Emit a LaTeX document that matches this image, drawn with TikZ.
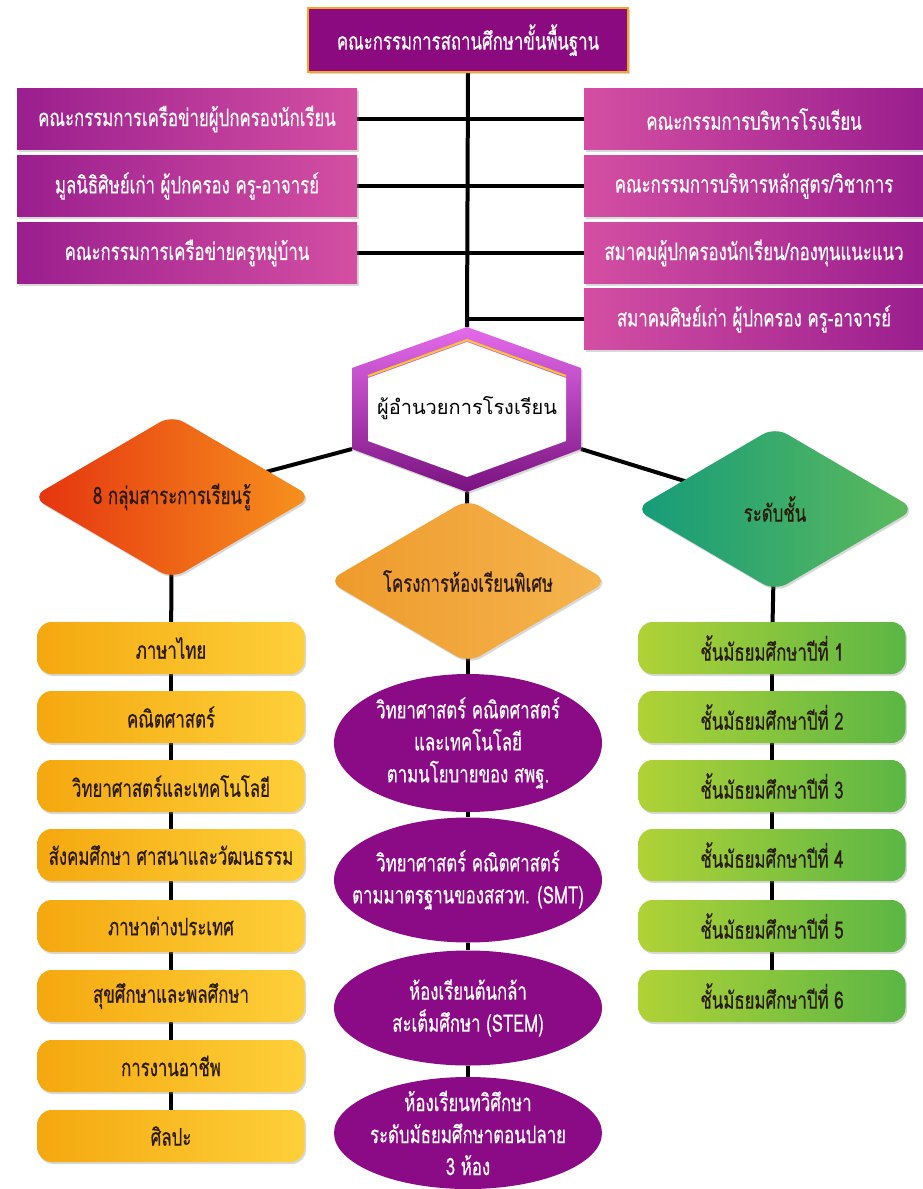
\documentclass[tikz,border=0pt]{standalone}
\usepackage{fontspec}
\newfontfamily\thai[Script=Thai, FakeStretch=0.7, FakeBold=0.4]{Loma}
\newfontfamily\thaiwide[Script=Thai]{Loma}
\usetikzlibrary{shapes.geometric,shadows}
\pgfdeclarelayer{back}
\pgfdeclarelayer{bg}
\pgfsetlayers{back,bg,main}
\definecolor{topP}{HTML}{8C0A80}
\definecolor{topB}{HTML}{F5A623}
\definecolor{pdark}{HTML}{9A1E8E}
\definecolor{plight}{HTML}{D44FA3}
\definecolor{oL}{HTML}{F5A80F}
\definecolor{oR}{HTML}{FDD03A}
\definecolor{gL}{HTML}{B0D236}
\definecolor{gR}{HTML}{5BB645}
\definecolor{d1L}{HTML}{E5330F}
\definecolor{d1R}{HTML}{F7931E}
\definecolor{d2L}{HTML}{EE9A2A}
\definecolor{d2R}{HTML}{F5B550}
\definecolor{d3L}{HTML}{159B7A}
\definecolor{d3R}{HTML}{5DBA5C}
\definecolor{ellp}{HTML}{8B0B86}
\definecolor{hexT}{HTML}{E46BEB}
\definecolor{hexB}{HTML}{7A1280}
\definecolor{hexY}{HTML}{F8C630}
\definecolor{dtxt}{HTML}{2A1A0A}
\begin{document}
\begin{tikzpicture}[x=1pt,y=-1pt,
 conn/.style={line width=4pt, black},
 txt/.style={font=\thai\fontsize{24}{28}\selectfont, align=center, inner sep=0pt, text=dtxt},
 shad/.style={drop shadow={opacity=0.3,shadow xshift=1.5pt,shadow yshift=-2pt}},
 pbox/.style={txt, shad, text=white, minimum width=340pt, minimum height=61pt},
 lbox/.style={pbox, left color=pdark, right color=plight},
 rbox/.style={pbox, left color=plight, right color=pdark},
 cbox/.style={txt, shad, rounded corners=14pt, minimum width=267pt, minimum height=52pt},
 obox/.style={cbox, left color=oL, right color=oR},
 gbox/.style={cbox, left color=gL, right color=gR},
 diam/.style={shad, diamond, inner sep=0pt, rounded corners=14pt, minimum width=280pt, minimum height=164pt},
 ell/.style={ellipse, fill=ellp, inner sep=0pt, minimum width=268pt},
 etxt/.style={txt, text=white, font=\thai\fontsize{24}{32}\selectfont},
]
\useasboundingbox (0,0) rectangle (922,1189);
\begin{pgfonlayer}{back}
\fill[white] (0,0) rectangle (922,1189);
\end{pgfonlayer}

% top box
\node[txt, shad, fill=topP, draw=topB, line width=2pt, text=white,
  minimum width=320pt, minimum height=64pt] (top) at (468,40) {คณะกรรมการสถานศึกษาขั้นพื้นฐาน};

% left boxes
\node[lbox] (L1) at (187,119) {คณะกรรมการเครือข่ายผู้ปกครองนักเรียน};
\node[lbox] (L2) at (187,186) {มูลนิธิศิษย์เก่า ผู้ปกครอง ครู-อาจารย์};
\node[lbox] (L3) at (187,253) {คณะกรรมการเครือข่ายครูหมู่บ้าน};
% right boxes
\node[rbox] (R1) at (754,119) {คณะกรรมการบริหารโรงเรียน};
\node[rbox] (R2) at (754,186) {คณะกรรมการบริหารหลักสูตร/วิชาการ};
\node[rbox] (R3) at (754,253) {สมาคมผู้ปกครองนักเรียน/กองทุนแนะแนว};
\node[rbox] (R4) at (754,319) {สมาคมศิษย์เก่า ผู้ปกครอง ครู-อาจารย์};

% hexagon
\coordinate (hT) at (467,327);
\coordinate (hUR) at (581,368);
\coordinate (hLR) at (581,449);
\coordinate (hB) at (467,492);
\coordinate (hLL) at (352,449);
\coordinate (hUL) at (352,368);
\shade[top color=hexT, bottom color=hexB, shad] (hT) -- (hUR) -- (hLR) -- (hB) -- (hLL) -- (hUL) -- cycle;
\fill[white] (467,342) -- (566,378) -- (566,441) -- (467,477) -- (368,441) -- (368,378) -- cycle;
\draw[hexY, line width=2pt, line join=round] (368,376) -- (467,340) -- (566,376);
\node[txt, text=black, font=\thaiwide\fontsize{20}{24}\selectfont] (dir) at (467,408) {ผู้อำนวยการโรงเรียน};

% diamonds
\node[diam, left color=d1L, right color=d1R] (d1) at (172,497) {};
\node[txt] (d1t) at (d1.center) {8 กลุ่มสาระการเรียนรู้};
\node[diam, left color=d2L, right color=d2R] (d2) at (468,581) {};
\node[txt] (d2t) at (d2.center) {โครงการห้องเรียนพิเศษ};
\node[diam, left color=d3L, right color=d3R] (d3) at (775,509) {};
\node[txt] (d3t) at (d3.center) {ระดับชั้น};

% left column
\node[obox] (o1) at (171,648) {ภาษาไทย};
\node[obox] (o2) at (171,717) {คณิตศาสตร์};
\node[obox] (o3) at (171,786) {วิทยาศาสตร์และเทคโนโลยี};
\node[obox] (o4) at (171,855) {สังคมศึกษา ศาสนาและวัฒนธรรม};
\node[obox] (o5) at (171,926) {ภาษาต่างประเทศ};
\node[obox] (o6) at (171,996) {สุขศึกษาและพลศึกษา};
\node[obox] (o7) at (171,1066) {การงานอาชีพ};
\node[obox] (o8) at (171,1136) {ศิลปะ};

% right column
\node[gbox] (g1) at (772,648) {ชั้นมัธยมศึกษาปีที่ 1};
\node[gbox] (g2) at (772,717) {ชั้นมัธยมศึกษาปีที่ 2};
\node[gbox] (g3) at (772,786) {ชั้นมัธยมศึกษาปีที่ 3};
\node[gbox] (g4) at (772,855) {ชั้นมัธยมศึกษาปีที่ 4};
\node[gbox] (g5) at (772,926) {ชั้นมัธยมศึกษาปีที่ 5};
\node[gbox] (g6) at (772,996) {ชั้นมัธยมศึกษาปีที่ 6};

% middle ellipses
\node[ell, minimum height=138pt] (e1) at (468,743) {};
\node[etxt] (e1t) at (e1.center) {วิทยาศาสตร์ คณิตศาสตร์\\และเทคโนโลยี\\ตามนโยบายของ สพฐ.};
\node[ell, minimum height=125pt] (e2) at (468,880) {};
\node[etxt] (e2t) at (e2.center) {วิทยาศาสตร์ คณิตศาสตร์\\ตามมาตรฐานของสสวท. (SMT)};
\node[ell, minimum height=115pt] (e3) at (468,1008) {};
\node[etxt] (e3t) at (e3.center) {ห้องเรียนต้นกล้า\\สะเต็มศึกษา (STEM)};
\node[ell, minimum height=112pt] (e4) at (468,1133) {};
\node[etxt] (e4t) at (e4.center) {ห้องเรียนทวิศึกษา\\ระดับมัธยมศึกษาตอนปลาย\\3 ห้อง};

% connectors
\begin{pgfonlayer}{bg}
\draw[conn] (top.south) -- (hT);
\foreach \n in {L1,L2,L3} \draw[conn] (\n.east) -- (\n.east -| top.south);
\foreach \n in {R1,R2,R3,R4} \draw[conn] (\n.west) -- (\n.west -| top.south);
\draw[conn] (hLL) -- (d1.center);
\draw[conn] (hLR) -- (d3.center);
\draw[conn] (hB) -- (d2.center);
\draw[conn] (d1.center) -- (o1.center);
\foreach \a/\b in {o1/o2,o2/o3,o3/o4,o4/o5,o5/o6,o6/o7,o7/o8} \draw[conn] (\a) -- (\b);
\draw[conn] (d3.center) -- (g1.center);
\foreach \a/\b in {g1/g2,g2/g3,g3/g4,g4/g5,g5/g6} \draw[conn] (\a) -- (\b);
\draw[conn] (d2.center) -- (e1.center);
\foreach \a/\b in {e1/e2,e2/e3,e3/e4} \draw[conn] (\a) -- (\b);
\end{pgfonlayer}
\end{tikzpicture}
\end{document}
